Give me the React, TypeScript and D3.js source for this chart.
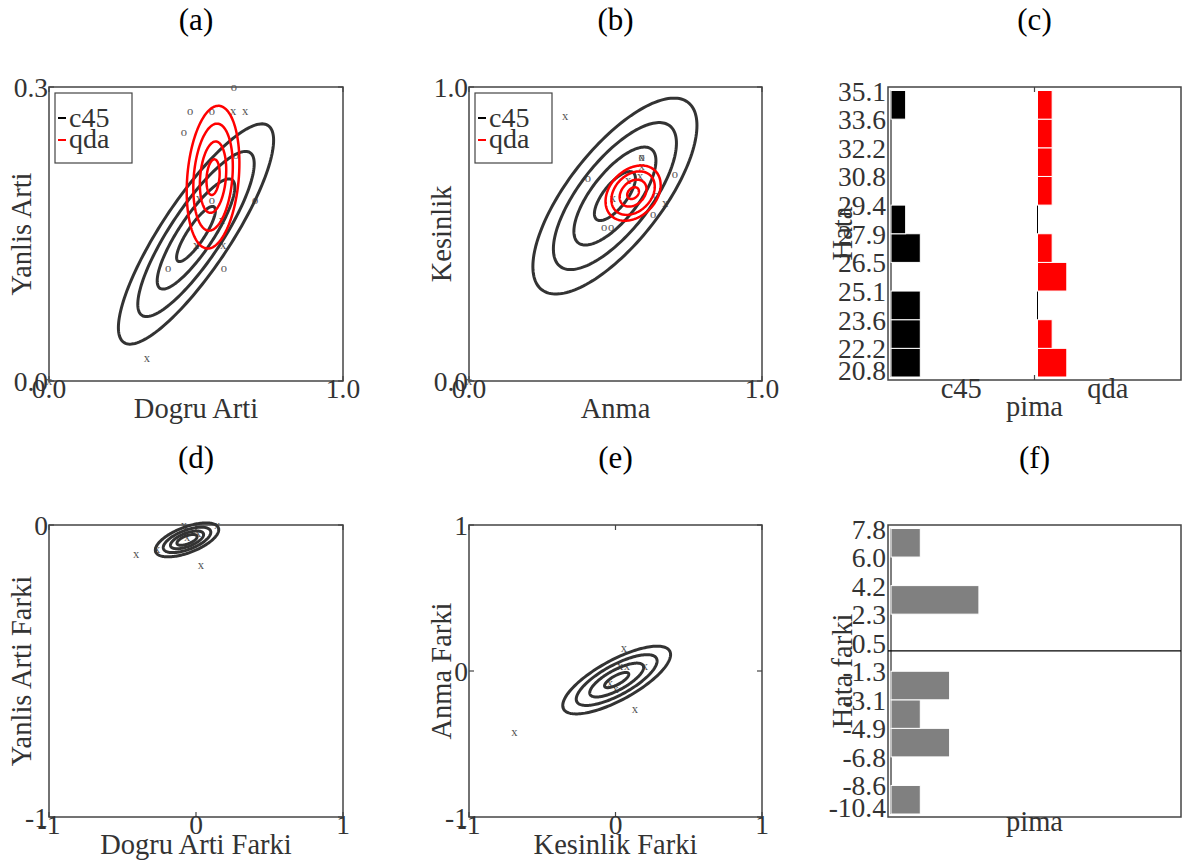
import React from 'react';
import * as d3 from 'd3';

// ---------------- data ----------------
const titles = ['(a)', '(b)', '(c)', '(d)', '(e)', '(f)'];
const legendNames = ['c45', 'qda'];

// (a)
const aXTicks = [0, 1];
const aXTickLabels = ['0.0', '1.0'];
const aYTicks = [0, 0.3];
const aYTickLabels = ['0.0', '0.3'];
const aC45Mean = [0.5, 0.15];
const aC45Sd = [0.066, 0.0281];
const aC45Rho = 0.85;
const aC45Levels = [1, 2, 3, 4];
const aQdaMean = [0.558, 0.208];
const aQdaSd = [0.0224, 0.0182];
const aQdaRho = 0.2;
const aQdaLevels = [1, 2, 3, 4];
const aPoints: [number, number, string][] = [
  [0.629, 0.300, 'o'], [0.480, 0.276, 'o'], [0.554, 0.276, 'o'], [0.626, 0.276, 'x'],
  [0.667, 0.276, 'x'], [0.459, 0.254, 'o'], [0.636, 0.231, 'o'], [0.554, 0.185, 'o'],
  [0.510, 0.187, 'x'], [0.701, 0.185, 'o'], [0.588, 0.164, 'x'], [0.500, 0.139, 'x'],
  [0.592, 0.139, 'x'], [0.405, 0.115, 'o'], [0.595, 0.115, 'o'], [0.333, 0.023, 'x'],
  [0.0, 0.0, 'x'],
];

// (b)
const bXTicks = [0, 1];
const bXTickLabels = ['0.0', '1.0'];
const bYTicks = [0, 1];
const bYTickLabels = ['0.0', '1.0'];
const bC45Mean = [0.498, 0.629];
const bC45Sd = [0.070, 0.0833];
const bC45Rho = 0.72;
const bC45Levels = [1, 2, 3, 4];
const bQdaMean = [0.560, 0.639];
const bQdaSd = [0.0235, 0.0235];
const bQdaRho = 0.3;
const bQdaLevels = [0.85, 1.95, 3.15, 4.0];
const bPoints: [number, number, string][] = [
  [0.328, 0.901, 'x'], [0.589, 0.762, 'o'], [0.589, 0.762, 'x'], [0.589, 0.731, 'x'],
  [0.406, 0.690, 'o'], [0.703, 0.704, 'o'], [0.584, 0.697, 'x'], [0.543, 0.684, 'x'],
  [0.638, 0.633, 'o'], [0.669, 0.605, 'x'], [0.628, 0.568, 'o'], [0.491, 0.622, 'x'],
  [0.461, 0.524, 'o'], [0.485, 0.524, 'o'], [0.0, 0.0, 'x'],
];

// (c)
const cEdgeLabels = ['20.8', '22.2', '23.6', '25.1', '26.5', '27.9', '29.4', '30.8', '32.2', '33.6', '35.1'];
const cCategories = ['c45', 'qda'];
const cC45Counts = [2, 2, 2, 0, 2, 1, 0, 0, 0, 1]; // bins from bottom
const cQdaCounts = [2, 1, 0, 2, 1, 0, 1, 1, 1, 1];

// (d)
const dXTicks = [-1, 0, 1];
const dXTickLabels = ['-1', '0', '1'];
const dYTicks = [-1, 0];
const dYTickLabels = ['-1', '0'];
const dMean = [-0.061, -0.051];
const dSd = [0.049, 0.0132];
const dRho = 0.6;
const dLevels = [1.4, 2.3, 3.3, 4.4];
const dPoints: [number, number, string][] = [
  [-0.082, 0.0, 'x'], [0.143, 0.0, 'x'], [-0.408, -0.099, 'x'], [-0.265, -0.082, 'x'],
  [0.034, -0.137, 'x'], [0.014, -0.027, 'x'], [-0.06, -0.04, 'x'],
];

// (e)
const eXTicks = [-1, 0, 1];
const eXTickLabels = ['-1', '0', '1'];
const eYTicks = [-1, 0, 1];
const eYTickLabels = ['-1', '0', '1'];
const eMean = [0.008, -0.062];
const eSd = [0.092, 0.058];
const eRho = 0.75;
const eLevels = [0.9, 2, 3, 4];
const ePoints: [number, number, string][] = [
  [0.058, 0.155, 'x'], [0.201, 0.034, 'x'], [0.031, 0.034, 'x'], [0.077, 0.034, 'x'],
  [0.133, -0.26, 'x'], [-0.69, -0.416, 'x'], [-0.038, -0.08, 'x'], [0.0, -0.12, 'x'],
];

// (f)
const fEdgeLabels = ['-10.4', '-8.6', '-6.8', '-4.9', '-3.1', '-1.3', '0.5', '2.3', '4.2', '6.0', '7.8'];
const fEdgeRange = [-10.4, 7.8];
const fCategories = ['pima'];
const fCounts = [1, 0, 2, 1, 2, 0, 0, 3, 0, 1]; // bins from bottom

// ---------------- drawing ----------------
const FONT = "'Liberation Serif', 'Times New Roman', serif";
const TXT = '#333';
const AXC = '#444';
const TICK_FS = 27.5;
const LABEL_FS = 28.5;

type Box = { l: number; r: number; t: number; b: number };
type ESet = { mean: number[]; sd: number[]; rho: number; levels: number[]; color: string; width: number };

function ellipsePath(s: ESet, r: number, xs: any, ys: any) {
  const n = 160;
  const q = Math.sqrt(1 - s.rho * s.rho);
  const pts = d3.range(n).map((i) => {
    const t = (i / n) * 2 * Math.PI;
    const u = Math.cos(t), v = Math.sin(t);
    return [xs(s.mean[0] + r * s.sd[0] * u), ys(s.mean[1] + r * s.sd[1] * (s.rho * u + q * v))] as [number, number];
  });
  return d3.line().curve(d3.curveLinearClosed)(pts) || '';
}

function Title({ x, y, text }: { x: number; y: number; text: string }) {
  return (
    <text x={x} y={y} textAnchor="middle" fontFamily={FONT} fontSize={31} fill="#000">{text}</text>
  );
}

function ScatterPanel(p: {
  box: Box; xDomain: number[]; yDomain: number[]; xTicks: number[]; xTickLabels: string[];
  yTicks: number[]; yTickLabels: string[]; xLabel: string; yLabel: string; sets: ESet[];
  points: [number, number, string][]; legend: boolean; title: string;
}) {
  const { box } = p;
  const xs = d3.scaleLinear().domain(p.xDomain).range([box.l, box.r]);
  const ys = d3.scaleLinear().domain(p.yDomain).range([box.b, box.t]);
  const cx = (box.l + box.r) / 2, cy = (box.t + box.b) / 2;
  return (
    <g>
      <Title x={cx} y={box.t - 57} text={p.title} />
      <rect x={box.l} y={box.t} width={box.r - box.l} height={box.b - box.t} fill="#fff" stroke={AXC} strokeWidth={1.5} />
      {p.xTicks.map((v, i) => (
        <g key={'xt' + i}>
          <line x1={xs(v)} x2={xs(v)} y1={box.b} y2={box.b - 5} stroke={AXC} strokeWidth={1.2} />
          <line x1={xs(v)} x2={xs(v)} y1={box.t} y2={box.t + 5} stroke={AXC} strokeWidth={1.2} />
        </g>
      ))}
      {p.yTicks.map((v, i) => (
        <g key={'yt' + i}>
          <line x1={box.l} x2={box.l + 5} y1={ys(v)} y2={ys(v)} stroke={AXC} strokeWidth={1.2} />
          <line x1={box.r} x2={box.r - 5} y1={ys(v)} y2={ys(v)} stroke={AXC} strokeWidth={1.2} />
        </g>
      ))}
      {p.points.map((d, i) => (
        <text key={'pt' + i} x={xs(d[0])} y={ys(d[1]) + 4} textAnchor="middle" fontFamily={FONT} fontSize={12.5} fill="#555">{d[2]}</text>
      ))}
      {p.sets.map((s, si) =>
        s.levels.map((r, li) => (
          <path key={'e' + si + '_' + li} d={ellipsePath(s, r, xs, ys)} fill="none" stroke={s.color} strokeWidth={s.width} />
        ))
      )}
      {p.yTicks.map((v, i) => (
        <text key={'ytl' + i} x={box.l - 1} y={ys(v) + 10} textAnchor="end" fontFamily={FONT} fontSize={TICK_FS} fill={TXT}>{p.yTickLabels[i]}</text>
      ))}
      {p.xTicks.map((v, i) => (
        <text key={'xtl' + i} x={xs(v)} y={box.b + 17} textAnchor="middle" fontFamily={FONT} fontSize={TICK_FS} fill={TXT}>{p.xTickLabels[i]}</text>
      ))}
      <text x={cx} y={box.b + 37} textAnchor="middle" fontFamily={FONT} fontSize={LABEL_FS} fill={TXT}>{p.xLabel}</text>
      <text transform={`translate(${box.l - 18},${cy}) rotate(-90)`} textAnchor="middle" fontFamily={FONT} fontSize={LABEL_FS} fill={TXT}>{p.yLabel}</text>
      {p.legend && (
        <g>
          <rect x={box.l + 6} y={box.t + 6} width={77} height={70} fill="#fff" stroke={AXC} strokeWidth={1.2} />
          {legendNames.map((n, i) => (
            <g key={'lg' + i}>
              <line x1={box.l + 9} x2={box.l + 17} y1={box.t + 31 + i * 22} y2={box.t + 31 + i * 22} stroke={i === 0 ? '#000' : '#f00'} strokeWidth={2} />
              <text x={box.l + 20} y={box.t + 40 + i * 21} fontFamily={FONT} fontSize={28} fill={TXT}>{n}</text>
            </g>
          ))}
        </g>
      )}
    </g>
  );
}

function HistPanel(p: {
  box: Box; edgeLabels: string[]; categories: string[]; countsList: number[][]; colors: string[];
  xLabel: string | null; yLabel: string; title: string; zeroRange: number[] | null; catDy: number;
}) {
  const { box } = p;
  const nb = p.edgeLabels.length - 1;
  const ys = d3.scaleLinear().domain([0, nb]).range([box.b - 3, box.t + 3.5]);
  const band = d3.scaleBand().domain(p.categories).range([box.l, box.r]);
  const cs = d3.scaleLinear().domain([0, 10]).range([0, band.bandwidth()]);
  const cx = (box.l + box.r) / 2, cy = (box.t + box.b) / 2;
  return (
    <g>
      <Title x={cx} y={box.t - 57} text={p.title} />
      <rect x={box.l} y={box.t} width={box.r - box.l} height={box.b - box.t} fill="#fff" stroke={AXC} strokeWidth={1.5} />
      {p.categories.slice(1).map((c, i) => (
        <g key={'ct' + i}>
          <line x1={band(c)} x2={band(c)} y1={box.b} y2={box.b - 5} stroke={AXC} strokeWidth={1.2} />
          <line x1={band(c)} x2={band(c)} y1={box.t} y2={box.t + 5} stroke={AXC} strokeWidth={1.2} />
        </g>
      ))}
      {p.categories.map((c, ci) => {
        const x0 = (band(c) as number) + 3;
        return (
          <g key={'cat' + ci}>
            <line x1={x0} x2={x0} y1={ys(0)} y2={ys(nb)} stroke="#000" strokeWidth={1} />
            {p.countsList[ci].map((n, bi) =>
              n > 0 ? (
                <rect key={'b' + bi} x={x0} y={ys(bi + 1)} width={cs(n)} height={ys(bi) - ys(bi + 1)} fill={p.colors[ci]} stroke="#fff" strokeWidth={1} />
              ) : null
            )}
            <text x={(band(c) as number) + band.bandwidth() / 2} y={box.b + p.catDy} textAnchor="middle" fontFamily={FONT} fontSize={LABEL_FS} fill={TXT}>{c}</text>
          </g>
        );
      })}
      {p.zeroRange && (() => {
        const vs = d3.scaleLinear().domain(p.zeroRange as number[]).range([box.b - 3, box.t + 3.5]);
        return <line x1={box.l} x2={box.r} y1={vs(0)} y2={vs(0)} stroke="#000" strokeWidth={1.2} />;
      })()}
      {p.edgeLabels.map((s, i) => (
        <text key={'yl' + i} x={box.l - 2} y={Math.min(ys(i) + 10, box.b)} textAnchor="end" fontFamily={FONT} fontSize={TICK_FS} fill={TXT}>{s}</text>
      ))}
      {p.xLabel && (
        <text x={cx} y={box.b + 36} textAnchor="middle" fontFamily={FONT} fontSize={LABEL_FS} fill={TXT}>{p.xLabel}</text>
      )}
      <text transform={`translate(${box.l - 36},${cy}) rotate(-90)`} textAnchor="middle" fontFamily={FONT} fontSize={LABEL_FS} fill={TXT}>{p.yLabel}</text>
    </g>
  );
}

export default function App() {
  const boxA = { l: 49, r: 343, t: 87, b: 381 };
  const boxB = { l: 469, r: 762, t: 87, b: 381 };
  const boxC = { l: 888, r: 1181, t: 87, b: 380 };
  const boxD = { l: 49, r: 343, t: 525, b: 817 };
  const boxE = { l: 469, r: 762, t: 525, b: 817 };
  const boxF = { l: 888, r: 1181, t: 525, b: 817 };
  const dark = '#333';
  return (
    <svg width={1187} height={865} style={{ position: 'absolute', left: 0, top: 0, background: '#fff' }}>
      <rect x={0} y={0} width={1187} height={865} fill="#fff" />
      <ScatterPanel box={boxA} xDomain={[0, 1]} yDomain={[0, 0.3]} xTicks={aXTicks} xTickLabels={aXTickLabels}
        yTicks={aYTicks} yTickLabels={aYTickLabels} xLabel="Dogru Arti" yLabel="Yanlis Arti"
        sets={[
          { mean: aC45Mean, sd: aC45Sd, rho: aC45Rho, levels: aC45Levels, color: dark, width: 3 },
          { mean: aQdaMean, sd: aQdaSd, rho: aQdaRho, levels: aQdaLevels, color: '#f00', width: 2.5 },
        ]}
        points={aPoints} legend={true} title={titles[0]} />
      <ScatterPanel box={boxB} xDomain={[0, 1]} yDomain={[0, 1]} xTicks={bXTicks} xTickLabels={bXTickLabels}
        yTicks={bYTicks} yTickLabels={bYTickLabels} xLabel="Anma" yLabel="Kesinlik"
        sets={[
          { mean: bC45Mean, sd: bC45Sd, rho: bC45Rho, levels: bC45Levels, color: dark, width: 3 },
          { mean: bQdaMean, sd: bQdaSd, rho: bQdaRho, levels: bQdaLevels, color: '#f00', width: 2.5 },
        ]}
        points={bPoints} legend={true} title={titles[1]} />
      <HistPanel box={boxC} edgeLabels={cEdgeLabels} categories={cCategories} countsList={[cC45Counts, cQdaCounts]}
        colors={['#000', '#f00']} xLabel="pima" yLabel="Hata" title={titles[2]} zeroRange={null} catDy={18} />
      <ScatterPanel box={boxD} xDomain={[-1, 1]} yDomain={[-1, 0]} xTicks={dXTicks} xTickLabels={dXTickLabels}
        yTicks={dYTicks} yTickLabels={dYTickLabels} xLabel="Dogru Arti Farki" yLabel="Yanlis Arti Farki"
        sets={[{ mean: dMean, sd: dSd, rho: dRho, levels: dLevels, color: dark, width: 3 }]}
        points={dPoints} legend={false} title={titles[3]} />
      <ScatterPanel box={boxE} xDomain={[-1, 1]} yDomain={[-1, 1]} xTicks={eXTicks} xTickLabels={eXTickLabels}
        yTicks={eYTicks} yTickLabels={eYTickLabels} xLabel="Kesinlik Farki" yLabel="Anma Farki"
        sets={[{ mean: eMean, sd: eSd, rho: eRho, levels: eLevels, color: dark, width: 3 }]}
        points={ePoints} legend={false} title={titles[4]} />
      <HistPanel box={boxF} edgeLabels={fEdgeLabels} categories={fCategories} countsList={[fCounts]}
        colors={['#808080']} xLabel={null} yLabel="Hata farki" title={titles[5]} zeroRange={fEdgeRange} catDy={14} />
    </svg>
  );
}
